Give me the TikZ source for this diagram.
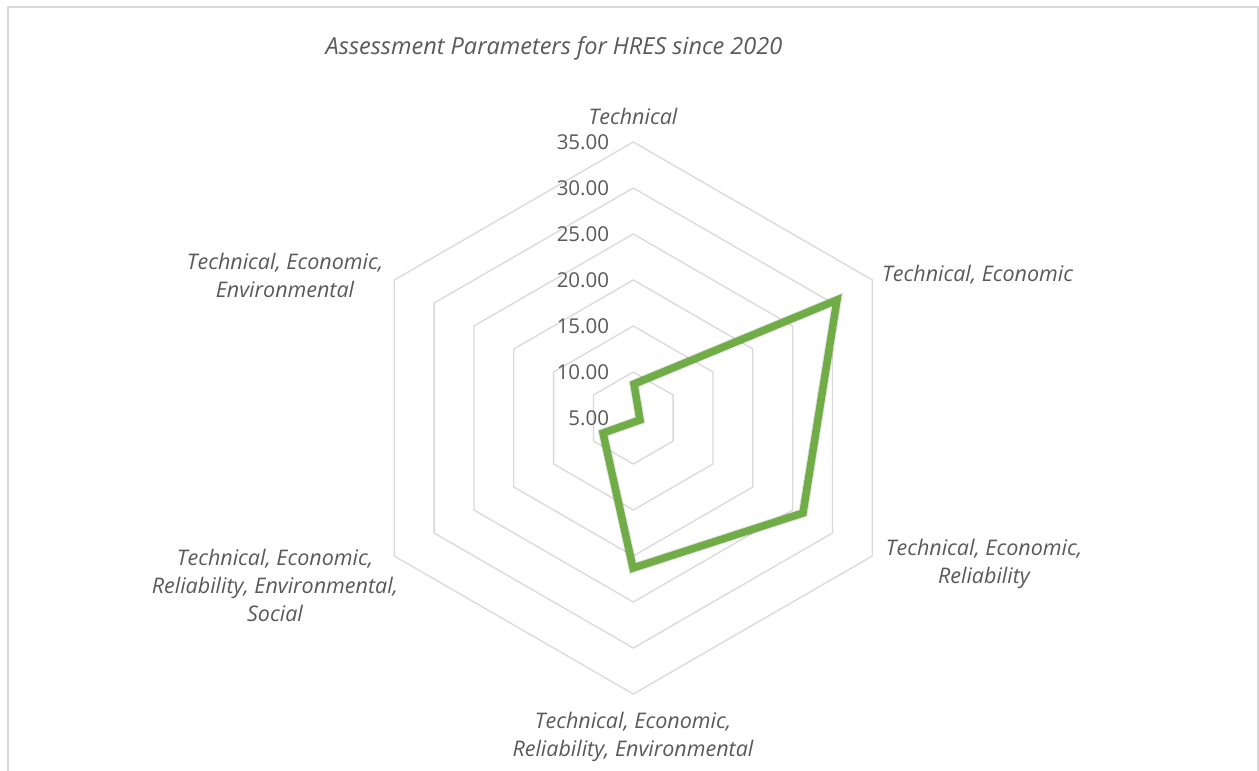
\documentclass[tikz,border=0pt]{standalone}
\usepackage{fontspec}
\setmainfont{Open Sans}
\definecolor{txt}{HTML}{595959}
\definecolor{grid}{HTML}{D9D9D9}
\definecolor{series}{HTML}{70AD47}
\begin{document}
\begin{tikzpicture}[x=1pt,y=-1pt,
  lbl/.style={text=txt,font=\fontsize{21.5}{28}\selectfont\itshape,align=center,inner sep=0pt},
  tick/.style={text=txt,font=\fontsize{20.5}{22}\selectfont,anchor=east,inner sep=0pt},
  ring/.style={draw=grid,line width=1.3pt},
  dataline/.style={draw=series,line width=7.5pt,line join=miter}]
\useasboundingbox (0,0) rectangle (1259,771);
\draw[draw=grid,line width=1.5pt] (8,785) -- (8,7) -- (1258,7) -- (1258,785);
\coordinate (c) at (633.3,418);
% rings
\foreach \k in {1,...,6}{
  \pgfmathsetmacro{\r}{46*\k}
  \draw[ring] ([shift={(0,-\r)}]c) -- ([shift={({0.8660*\r},{-0.5*\r})}]c) -- ([shift={({0.8660*\r},{0.5*\r})}]c) -- ([shift={(0,\r)}]c) -- ([shift={({-0.8660*\r},{0.5*\r})}]c) -- ([shift={({-0.8660*\r},{-0.5*\r})}]c) -- cycle;
}
% tick labels
\foreach \k/\v in {0/5.00,1/10.00,2/15.00,3/20.00,4/25.00,5/30.00,6/35.00}{
  \node[tick] (t\k) at ([shift={(-24,{-46*\k})}]c) {\v};
}
% data points
\coordinate (p1) at (634,384);
\coordinate (p2) at (837,300);
\coordinate (p3) at (803,513);
\coordinate (p4) at (633,568);
\coordinate (p5) at (603,433);
\coordinate (p6) at (640,420);
\draw[line width=9.5pt,draw=black,opacity=0.10,line join=miter,shift={(1.5,3)}] (p1) -- (p2) -- (p3) -- (p4) -- (p5) -- (p6) -- cycle;
\draw[dataline] (p1) -- (p2) -- (p3) -- (p4) -- (p5) -- (p6) -- cycle;
% category labels
\node[lbl] (l1) at (633,116) {Technical};
\node[lbl,anchor=west] (l2) at (882,275) {Technical, Economic};
\node[lbl] (l3) at (984,564) {Technical, Economic,\\Reliability};
\node[lbl] (l4) at (633,737) {Technical, Economic,\\Reliability, Environmental};
\node[lbl] (l5) at (275,585) {Technical, Economic,\\Reliability, Environmental,\\Social};
\node[lbl] (l6) at (285,275) {Technical, Economic,\\Environmental};
% title
\node[lbl,font=\fontsize{23.5}{25}\selectfont\itshape] (title) at (554,48) {Assessment Parameters for HRES since 2020};
\end{tikzpicture}
\end{document}
